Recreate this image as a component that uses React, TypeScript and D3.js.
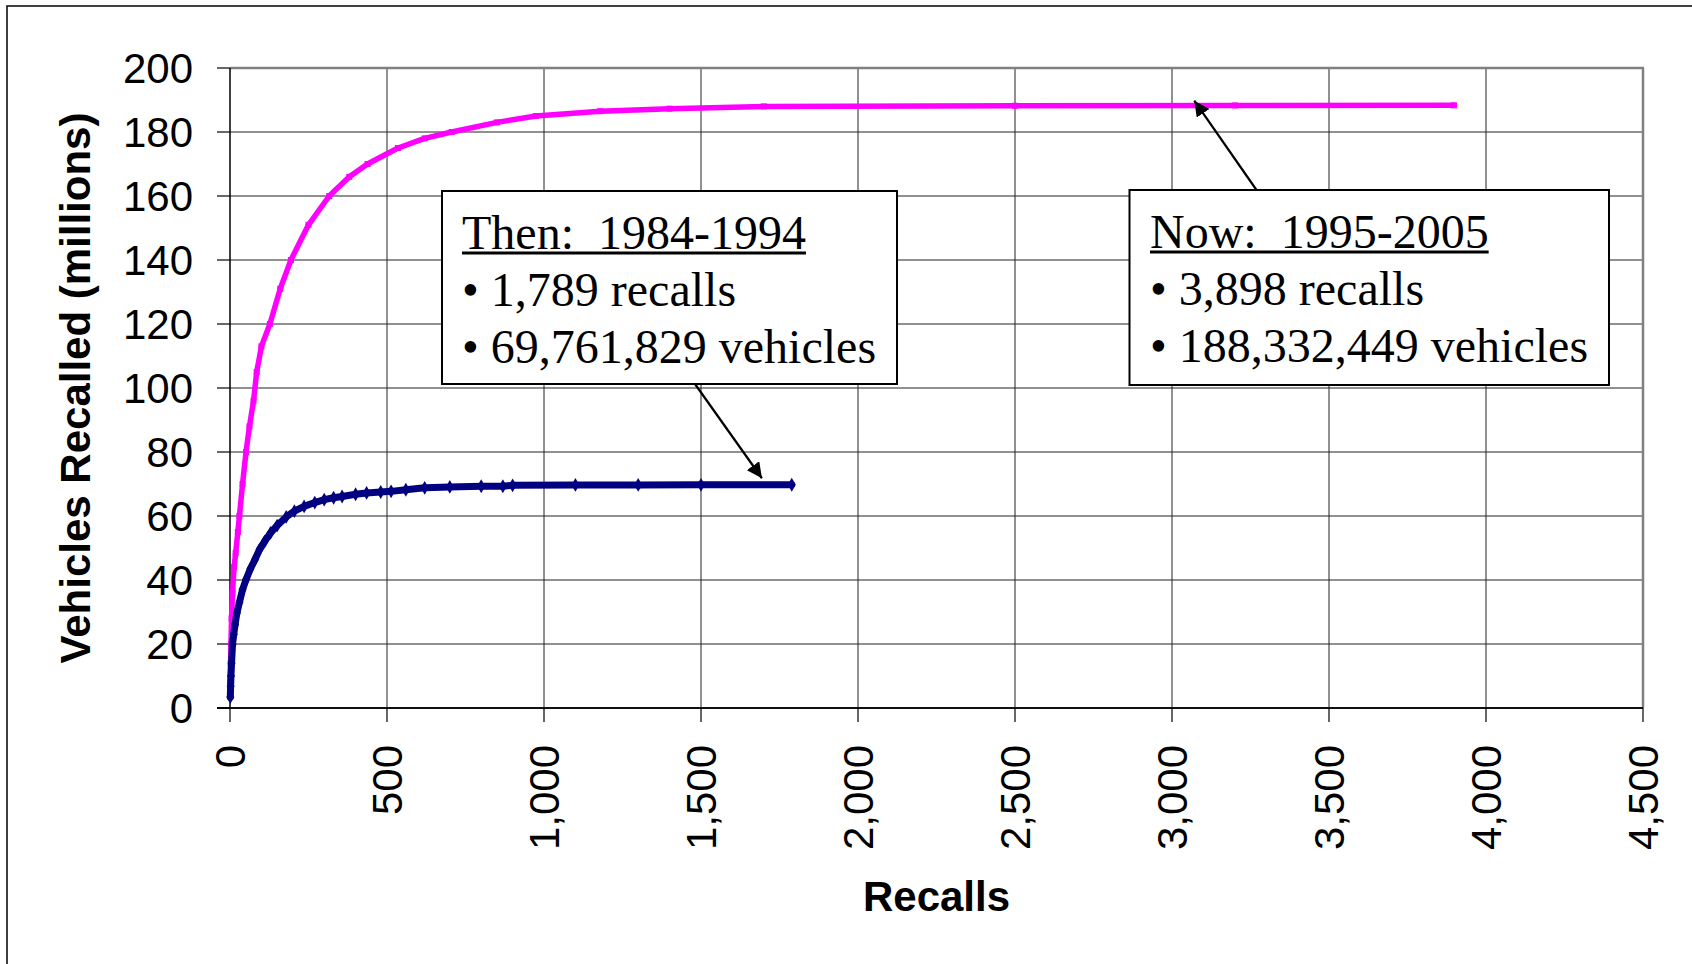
import React, { useEffect, useRef } from "react";
import * as d3 from "d3";

const W = 1692;
const H = 964;

const xTicks = [0, 500, 1000, 1500, 2000, 2500, 3000, 3500, 4000, 4500];
const yTicks = [0, 20, 40, 60, 80, 100, 120, 140, 160, 180, 200];

const thenRecalls = [1, 2, 3, 5, 8, 12, 16, 22, 30, 40, 51, 65, 80, 94, 110, 129, 150, 179, 205, 236, 270, 300, 330, 357, 400, 435, 480, 513, 560, 620, 700, 800, 869, 900, 1100, 1300, 1500, 1789];
const thenVehicles = [3.4, 6.8, 10, 14, 19.8, 23, 26, 29.7, 33, 37, 40.1, 43.5, 46.5, 49.5, 52, 54.7, 57, 59.7, 61.5, 63, 64.2, 65.1, 65.7, 66.1, 66.8, 67.2, 67.5, 67.7, 68.2, 68.8, 69.1, 69.3, 69.3, 69.6, 69.7, 69.72, 69.74, 69.76];

const nowRecalls = [1, 2, 3, 5, 8, 13, 18, 25, 30, 40, 51, 62, 75, 85, 100, 127, 160, 194, 250, 316, 380, 438, 535, 620, 706, 850, 974, 1179, 1400, 1700, 2500, 3200, 3898];
const nowVehicles = [8, 14, 20, 28, 36, 44, 48.4, 55, 60, 70, 80, 88, 96, 105, 113, 120, 131, 140, 151, 160, 166, 170, 175, 178, 180, 183, 185, 186.5, 187.3, 188, 188.2, 188.3, 188.33];

const thenNote = ["Then:  1984-1994", "• 1,789 recalls", "• 69,761,829 vehicles"];
const nowNote = ["Now:  1995-2005", "• 3,898 recalls", "• 188,332,449 vehicles"];

const yTitle = "Vehicles Recalled (millions)";
const xTitle = "Recalls";

export default function App() {
  const ref = useRef<SVGSVGElement | null>(null);

  useEffect(() => {
    const svg = d3.select(ref.current);
    svg.selectAll("*").remove();

    const left = 230, right = 1643, top = 68, bottom = 708;
    const x = d3.scaleLinear().domain([0, 4500]).range([left, right]);
    const y = d3.scaleLinear().domain([0, 200]).range([bottom, top]);
    const sans = "'Liberation Sans', Arial, sans-serif";
    const serif = "'Liberation Serif', 'Times New Roman', serif";

    svg.append("rect").attr("x", 0).attr("y", 0).attr("width", W).attr("height", H).attr("fill", "#fff");
    // outer chart frame
    svg.append("rect").attr("x", 7).attr("y", 6).attr("width", W + 20).attr("height", H + 20)
      .attr("fill", "none").attr("stroke", "#000").attr("stroke-width", 1.5);

    // gridlines
    const g = svg.append("g");
    yTicks.filter((t) => t > 0 && t < 200).forEach((t) => {
      g.append("line").attr("x1", left).attr("x2", right).attr("y1", y(t)).attr("y2", y(t))
        .attr("stroke", "#222").attr("stroke-width", 1);
    });
    xTicks.filter((t) => t > 0 && t < 4500).forEach((t) => {
      g.append("line").attr("x1", x(t)).attr("x2", x(t)).attr("y1", top).attr("y2", bottom)
        .attr("stroke", "#222").attr("stroke-width", 1);
    });
    // plot border top/right (gray)
    g.append("line").attr("x1", left).attr("x2", right + 1).attr("y1", top).attr("y2", top)
      .attr("stroke", "#808080").attr("stroke-width", 2.5);
    g.append("line").attr("x1", right).attr("x2", right).attr("y1", top).attr("y2", bottom)
      .attr("stroke", "#808080").attr("stroke-width", 2.5);

    // axes
    g.append("line").attr("x1", left).attr("x2", left).attr("y1", top).attr("y2", bottom)
      .attr("stroke", "#000").attr("stroke-width", 1.5);
    g.append("line").attr("x1", left - 13).attr("x2", right).attr("y1", bottom).attr("y2", bottom)
      .attr("stroke", "#111").attr("stroke-width", 2.2);

    yTicks.forEach((t) => {
      g.append("line").attr("x1", left - 13).attr("x2", left).attr("y1", y(t)).attr("y2", y(t))
        .attr("stroke", "#000").attr("stroke-width", 1.2);
      g.append("text").attr("x", 193).attr("y", y(t)).attr("dy", "0.36em")
        .attr("text-anchor", "end").attr("font-family", sans).attr("font-size", 42)
        .attr("fill", "#000").text(String(t));
    });
    const fmt = d3.format(",");
    xTicks.forEach((t) => {
      g.append("line").attr("x1", x(t)).attr("x2", x(t)).attr("y1", bottom).attr("y2", bottom + 14)
        .attr("stroke", "#000").attr("stroke-width", 1.2);
      g.append("text").attr("transform", `translate(${x(t)},745) rotate(-90)`)
        .attr("dy", "0.36em").attr("text-anchor", "end").attr("font-family", sans)
        .attr("font-size", 42).attr("fill", "#000").text(fmt(t));
    });

    // titles
    svg.append("text").attr("transform", `translate(90,388) rotate(-90)`)
      .attr("text-anchor", "middle").attr("font-family", sans).attr("font-weight", "bold")
      .attr("font-size", 42).attr("fill", "#000").text(yTitle);
    svg.append("text").attr("x", (left + right) / 2).attr("y", 911)
      .attr("text-anchor", "middle").attr("font-family", sans).attr("font-weight", "bold")
      .attr("font-size", 42).attr("fill", "#000").text(xTitle);

    // series
    const nowData = nowRecalls.map((r, i) => [r, nowVehicles[i]] as [number, number]);
    const thenData = thenRecalls.map((r, i) => [r, thenVehicles[i]] as [number, number]);
    const line = d3.line<[number, number]>().x((d) => x(d[0])).y((d) => y(d[1]));

    svg.append("path").attr("d", line(nowData)).attr("fill", "none")
      .attr("stroke", "#FF00FF").attr("stroke-width", 5.5).attr("stroke-linejoin", "round")
      .attr("stroke-linecap", "round");
    svg.append("g").selectAll("rect").data(nowData).join("rect")
      .attr("x", (d) => x(d[0]) - 3).attr("y", (d) => y(d[1]) - 3)
      .attr("width", 6).attr("height", 6).attr("fill", "#FF00FF");

    svg.append("path").attr("d", line(thenData)).attr("fill", "none")
      .attr("stroke", "#000080").attr("stroke-width", 7).attr("stroke-linejoin", "round")
      .attr("stroke-linecap", "round");
    const diamond = d3.symbol().type(d3.symbolDiamond).size(55);
    svg.append("g").selectAll("path").data(thenData).join("path")
      .attr("transform", (d) => `translate(${x(d[0])},${y(d[1])})`)
      .attr("d", diamond() as string).attr("fill", "#000080");

    // arrow marker
    const defs = svg.append("defs");
    defs.append("marker").attr("id", "arrowHead").attr("viewBox", "0 0 10 10")
      .attr("refX", 10).attr("refY", 5).attr("markerWidth", 7).attr("markerHeight", 7)
      .attr("markerUnits", "strokeWidth").attr("orient", "auto")
      .append("path").attr("d", "M0,0 L10,5 L0,10 z").attr("fill", "#000");

    // annotation boxes
    const drawNote = (lines: string[], bx: number, by: number, bw: number, bh: number, tx: number, ax: number, ay: number, tipX: number, tipY: number) => {
      svg.append("line").attr("x1", ax).attr("y1", ay).attr("x2", tipX).attr("y2", tipY)
        .attr("stroke", "#000").attr("stroke-width", 2.2).attr("marker-end", "url(#arrowHead)");
      svg.append("rect").attr("x", bx).attr("y", by).attr("width", bw).attr("height", bh)
        .attr("fill", "#fff").attr("stroke", "#000").attr("stroke-width", 2);
      lines.forEach((s, i) => {
        const t = svg.append("text").attr("x", tx).attr("y", by + 57.5 + i * 57.2)
          .attr("font-family", serif).attr("font-size", 48).attr("fill", "#000")
          .style("white-space", "pre").text(s);
        if (i === 0) {
          const len = (t.node() as SVGTextElement).getComputedTextLength();
          svg.append("line").attr("x1", tx).attr("x2", tx + len)
            .attr("y1", by + 62).attr("y2", by + 62).attr("stroke", "#000").attr("stroke-width", 2.8);
        }
      });
    };

    drawNote(thenNote, 442, 191, 455, 193, 462, 695, 384, x(1694), y(71.8));
    drawNote(nowNote, 1129.5, 190, 1609 - 1129.5, 195, 1150, 1256.5, 190, x(3071), y(189.8));
  }, []);

  return (
    <svg
      ref={ref}
      width={W}
      height={H}
      style={{ position: "absolute", left: 0, top: 0, display: "block" }}
    />
  );
}
